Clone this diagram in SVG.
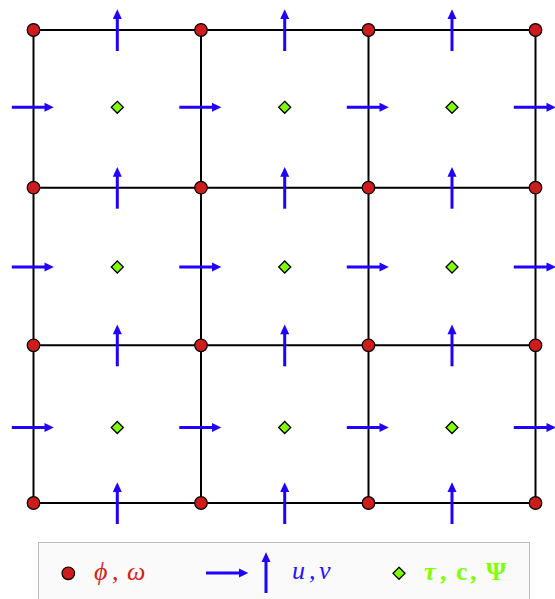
<svg xmlns="http://www.w3.org/2000/svg" xmlns:xlink="http://www.w3.org/1999/xlink" width="555" height="599" viewBox="0 0 555 599">
<style>
.grid{stroke:#000;stroke-width:2;fill:none}
.pt{fill:#cc1c1c;stroke:#000;stroke-width:1.2}
.dm{fill:#80ff00;stroke:#000;stroke-width:1.3}
.arr line{stroke:#2000ff;stroke-width:3}
.arr polygon{fill:#2000ff;stroke:none}
.tx{font-family:"Liberation Serif","Times New Roman",serif;font-size:26px}
</style>
<defs>
<g id="ha" class="arr"><line x1="-21.7" y1="0" x2="12" y2="0"/><polygon points="11,-4.5 20.3,0 11,4.5"/></g>
<g id="va" class="arr"><line x1="0" y1="21" x2="0" y2="-12"/><polygon points="-4.5,-11 0,-20.7 4.5,-11"/></g>
<polygon id="dmd" class="dm" points="0,-6 6,0 0,6 -6,0"/>
<circle id="pt" class="pt" r="6.3"/>
</defs>
<rect width="555" height="599" fill="#fff"/>
<g id="connectors">
<line class="grid" x1="33.5" y1="30" x2="535.5" y2="30"/>
<line class="grid" x1="33.5" y1="187.7" x2="535.5" y2="187.7"/>
<line class="grid" x1="33.5" y1="345.3" x2="535.5" y2="345.3"/>
<line class="grid" x1="33.5" y1="503" x2="535.5" y2="503"/>
<line class="grid" x1="33.5" y1="30" x2="33.5" y2="503"/>
<line class="grid" x1="201" y1="30" x2="201" y2="503"/>
<line class="grid" x1="368.5" y1="30" x2="368.5" y2="503"/>
<line class="grid" x1="535.5" y1="30" x2="535.5" y2="503"/>
</g>
<g id="u-arrows">
<use href="#ha" x="33.5" y="107.3"/><use href="#ha" x="201" y="107.3"/><use href="#ha" x="368.5" y="107.3"/><use href="#ha" x="535.5" y="107.3"/>
<use href="#ha" x="33.5" y="267"/><use href="#ha" x="201" y="267"/><use href="#ha" x="368.5" y="267"/><use href="#ha" x="535.5" y="267"/>
<use href="#ha" x="33.5" y="427.5"/><use href="#ha" x="201" y="427.5"/><use href="#ha" x="368.5" y="427.5"/><use href="#ha" x="535.5" y="427.5"/>
</g>
<g id="v-arrows">
<use href="#va" x="117.3" y="30"/><use href="#va" x="284.7" y="30"/><use href="#va" x="452" y="30"/>
<use href="#va" x="117.3" y="187.7"/><use href="#va" x="284.7" y="187.7"/><use href="#va" x="452" y="187.7"/>
<use href="#va" x="117.3" y="345.3"/><use href="#va" x="284.7" y="345.3"/><use href="#va" x="452" y="345.3"/>
<use href="#va" x="117.3" y="503"/><use href="#va" x="284.7" y="503"/><use href="#va" x="452" y="503"/>
</g>
<g id="nodes-phi">
<use href="#pt" x="33.5" y="30"/><use href="#pt" x="201" y="30"/><use href="#pt" x="368.5" y="30"/><use href="#pt" x="535.5" y="30"/>
<use href="#pt" x="33.5" y="187.7"/><use href="#pt" x="201" y="187.7"/><use href="#pt" x="368.5" y="187.7"/><use href="#pt" x="535.5" y="187.7"/>
<use href="#pt" x="33.5" y="345.3"/><use href="#pt" x="201" y="345.3"/><use href="#pt" x="368.5" y="345.3"/><use href="#pt" x="535.5" y="345.3"/>
<use href="#pt" x="33.5" y="503"/><use href="#pt" x="201" y="503"/><use href="#pt" x="368.5" y="503"/><use href="#pt" x="535.5" y="503"/>
</g>
<g id="nodes-tau">
<use href="#dmd" x="117.3" y="107.3"/><use href="#dmd" x="284.7" y="107.3"/><use href="#dmd" x="452" y="107.3"/>
<use href="#dmd" x="117.3" y="267"/><use href="#dmd" x="284.7" y="267"/><use href="#dmd" x="452" y="267"/>
<use href="#dmd" x="117.3" y="427.5"/><use href="#dmd" x="284.7" y="427.5"/><use href="#dmd" x="452" y="427.5"/>
</g>
<g id="legend">
<rect x="38.5" y="542.5" width="491" height="70" fill="#fafafa" stroke="#bbbbbb" stroke-width="1"/>
<use href="#pt" x="68.3" y="573.3"/>
<text class="tx" y="580" fill="#d42020" font-style="italic"><tspan x="94">ϕ</tspan><tspan x="112">,</tspan><tspan x="127">ω</tspan></text>
<g class="arr"><line x1="206" y1="573" x2="240" y2="573"/><polygon points="239,568.5 248.3,573 239,577.5"/></g>
<g class="arr"><line x1="266" y1="593" x2="266" y2="561"/><polygon points="261.5,562 266,552.3 270.5,562"/></g>
<text class="tx" y="579" fill="#2a10ff" font-style="italic"><tspan x="292">u</tspan><tspan x="309">,</tspan><tspan x="319">v</tspan></text>
<use href="#dmd" x="399" y="573.3"/>
<text class="tx" y="580" fill="#80ff00" font-weight="bold" font-size="25"><tspan x="424" font-style="italic">τ</tspan><tspan x="440">,</tspan><tspan x="456">c</tspan><tspan x="470">,</tspan><tspan x="486">Ψ</tspan></text>
</g>
</svg>
